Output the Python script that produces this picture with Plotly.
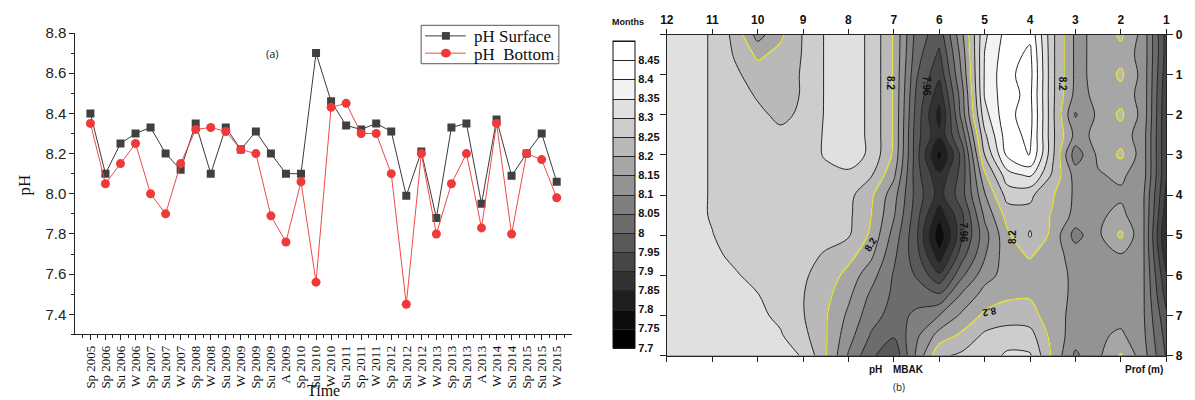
import plotly.graph_objects as go

# ---------------- data: panel (a) ----------------
time_labels = ["Sp 2005", "Sp 2006", "Su 2006", "W 2006", "Sp 2007", "Su 2007", "W 2007",
               "Sp 2008", "W 2008", "Su 2009", "W 2009", "Sp 2009", "Su 2009", "A 2009",
               "Sp 2010", "Su 2010", "W 2010", "Su 2011", "Sp 2011", "W 2011", "Sp 2012",
               "Su 2012", "W 2012", "W 2013", "Sp 2013", "Su 2013", "A 2013", "W 2014",
               "Su 2014", "Sp 2015", "Su 2015", "W 2015"]
ph_surface = [8.40, 8.10, 8.25, 8.30, 8.33, 8.20, 8.12, 8.35, 8.10, 8.33, 8.22, 8.31, 8.20, 8.10,
              8.10, 8.70, 8.46, 8.34, 8.32, 8.35, 8.31, 7.99, 8.21, 7.88, 8.33, 8.35, 7.95, 8.37,
              8.09, 8.20, 8.30, 8.06]
ph_bottom = [8.35, 8.05, 8.15, 8.25, 8.00, 7.90, 8.15, 8.32, 8.33, 8.31, 8.22, 8.20, 7.89, 7.76,
             8.06, 7.56, 8.43, 8.45, 8.30, 8.30, 8.10, 7.45, 8.20, 7.80, 8.05, 8.20, 7.83, 8.35,
             7.80, 8.20, 8.17, 7.98]
ph_ticks = [7.4, 7.6, 7.8, 8.0, 8.2, 8.4, 8.6, 8.8]
legend_names = ["pH Surface", "pH  Bottom<span style='font-size:9px'> :</span>"]

# ---------------- data: panel (b) ----------------
months = [12, 11.5, 11, 10.5, 10, 9.5, 9, 8.5, 8, 7.5, 7, 6.5, 6, 5.5, 5, 4.5, 4, 3.5, 3, 2.5, 2, 1.5, 1]
depths = [0, 0.5, 1, 1.5, 2, 2.5, 3, 3.5, 4, 4.5, 5, 5.5, 6, 6.5, 7, 7.5, 8]
# pH, one list per month column (top -> bottom, depth 0..8 m)
ph_by_month = [
    [8.32, 8.32, 8.32, 8.32, 8.32, 8.32, 8.32, 8.32, 8.32, 8.32, 8.32, 8.32, 8.32, 8.32, 8.32, 8.32, 8.32],
    [8.32, 8.32, 8.32, 8.32, 8.32, 8.32, 8.32, 8.32, 8.32, 8.32, 8.32, 8.32, 8.32, 8.32, 8.32, 8.32, 8.32],
    [8.295, 8.295, 8.295, 8.295, 8.295, 8.295, 8.295, 8.295, 8.295, 8.295, 8.302, 8.31, 8.315, 8.315, 8.315, 8.315, 8.315],
    [8.235, 8.245, 8.26, 8.27, 8.275, 8.275, 8.275, 8.275, 8.275, 8.275, 8.275, 8.29, 8.305, 8.315, 8.315, 8.315, 8.315],
    [8.13, 8.19, 8.225, 8.245, 8.26, 8.275, 8.275, 8.275, 8.275, 8.275, 8.275, 8.275, 8.285, 8.302, 8.31, 8.315, 8.315],
    [8.19, 8.215, 8.235, 8.235, 8.24, 8.26, 8.275, 8.275, 8.275, 8.275, 8.275, 8.275, 8.275, 8.28, 8.29, 8.305, 8.31],
    [8.253, 8.253, 8.253, 8.253, 8.258, 8.275, 8.275, 8.275, 8.275, 8.275, 8.27, 8.265, 8.255, 8.252, 8.253, 8.265, 8.298],
    [8.305, 8.305, 8.305, 8.305, 8.305, 8.305, 8.305, 8.285, 8.27, 8.27, 8.265, 8.245, 8.235, 8.215, 8.205, 8.205, 8.205],
    [8.325, 8.325, 8.325, 8.325, 8.325, 8.325, 8.325, 8.29, 8.265, 8.26, 8.255, 8.22, 8.18, 8.16, 8.14, 8.12, 8.095],
    [8.29, 8.29, 8.29, 8.29, 8.29, 8.29, 8.29, 8.255, 8.21, 8.201, 8.19, 8.16, 8.12, 8.09, 8.07, 8.045, 8.01],
    [8.195, 8.195, 8.195, 8.195, 8.195, 8.195, 8.19, 8.16, 8.12, 8.105, 8.08, 8.06, 8.045, 8.04, 8.03, 8.005, 7.96],
    [8.03, 8.02, 8.005, 7.99, 7.98, 7.97, 7.97, 7.97, 7.98, 7.97, 7.96, 7.97, 7.995, 8.03, 8.06, 8.09, 8.11],
    [7.97, 7.94, 7.91, 7.87, 7.83, 7.86, 7.78, 7.86, 7.88, 7.82, 7.76, 7.82, 7.91, 8.01, 8.1, 8.17, 8.24],
    [8.14, 8.12, 8.105, 8.08, 8.07, 8.02, 7.97, 7.97, 7.98, 7.94, 7.94, 7.98, 8.04, 8.11, 8.16, 8.21, 8.26],
    [8.34, 8.352, 8.355, 8.355, 8.33, 8.29, 8.25, 8.19, 8.145, 8.11, 8.08, 8.095, 8.13, 8.17, 8.21, 8.26, 8.27],
    [8.42, 8.43, 8.44, 8.435, 8.44, 8.43, 8.41, 8.33, 8.27, 8.22, 8.19, 8.18, 8.17, 8.19, 8.23, 8.27, 8.31],
    [8.44, 8.46, 8.468, 8.462, 8.468, 8.462, 8.455, 8.36, 8.26, 8.235, 8.255, 8.205, 8.18, 8.195, 8.22, 8.27, 8.305],
    [8.26, 8.26, 8.26, 8.26, 8.26, 8.26, 8.26, 8.24, 8.205, 8.195, 8.185, 8.17, 8.17, 8.17, 8.17, 8.18, 8.19],
    [8.14, 8.14, 8.14, 8.135, 8.095, 8.135, 8.07, 8.13, 8.14, 8.135, 8.08, 8.13, 8.14, 8.14, 8.135, 8.125, 8.09],
    [8.16, 8.16, 8.16, 8.16, 8.16, 8.16, 8.16, 8.145, 8.13, 8.14, 8.14, 8.13, 8.12, 8.12, 8.12, 8.14, 8.14],
    [8.21, 8.18, 8.21, 8.18, 8.21, 8.18, 8.21, 8.16, 8.14, 8.165, 8.21, 8.145, 8.13, 8.12, 8.13, 8.16, 8.205],
    [8.13, 8.13, 8.13, 8.13, 8.13, 8.12, 8.12, 8.12, 8.105, 8.105, 8.105, 8.105, 8.105, 8.105, 8.105, 8.11, 8.12],
    [7.93, 7.93, 7.92, 7.91, 7.905, 7.905, 7.905, 7.905, 7.89, 7.87, 7.845, 7.87, 7.905, 7.93, 7.96, 7.98, 7.995],
]
month_ticks = [12, 11, 10, 9, 8, 7, 6, 5, 4, 3, 2, 1]
depth_ticks = [0, 1, 2, 3, 4, 5, 6, 7, 8]
cbar_ticks = [7.7, 7.75, 7.8, 7.85, 7.9, 7.95, 8.0, 8.05, 8.1, 8.15, 8.2, 8.25, 8.3, 8.35, 8.4, 8.45]
cbar_text = ["7.7", "7.75", "7.8", "7.85", "7.9", "7.95", "8", "8.05", "8.1", "8.15",
             "8.2", "8.25", "8.3", "8.35", "8.4", "8.45"]

# depth rows x month columns
ph_grid = [list(row) for row in zip(*ph_by_month)]

W, H = 1195, 400
def px(x):
    return x / W
def py(y):
    return 1 - y / H

SERIF = "Liberation Serif"
SANS = "Liberation Sans"
idx = list(range(len(time_labels)))
SURF_LINE, SURF_MARK = "#3a3a3a", "#404040"
BOT_LINE, BOT_MARK = "#f04848", "#f03a3a"

fig = go.Figure()

fig.add_trace(go.Scatter(
    x=idx, y=ph_surface, mode="lines+markers", name=legend_names[0],
    line=dict(color=SURF_LINE, width=1),
    marker=dict(symbol="square", size=8, color=SURF_MARK),
    xaxis="x", yaxis="y", showlegend=False))
fig.add_trace(go.Scatter(
    x=idx, y=ph_bottom, mode="lines+markers", name=legend_names[1],
    line=dict(color=BOT_LINE, width=1),
    marker=dict(symbol="circle", size=9, color=BOT_MARK),
    xaxis="x", yaxis="y", showlegend=False))

gray_scale = [[0, "rgb(0,0,0)"], [1 / 17, "rgb(0,0,0)"], [16 / 17, "rgb(255,255,255)"], [1, "rgb(255,255,255)"]]

fig.add_trace(go.Contour(
    x=months, y=depths, z=ph_grid, xaxis="x2", yaxis="y2",
    autocontour=False,
    contours=dict(start=7.7, end=8.5, size=0.05, coloring="fill", showlines=True),
    colorscale=gray_scale, zmin=7.7, zmax=8.5,
    line=dict(color="#262626", width=1, smoothing=1.0),
    showscale=True,
    colorbar=dict(x=px(611.7), xanchor="left", y=py(193), yanchor="middle",
                  len=320 / H, lenmode="fraction", thickness=21.6, thicknessmode="pixels",
                  xpad=0, ypad=0, outlinecolor="#111", outlinewidth=1,
                  tickmode="array", tickvals=cbar_ticks, ticktext=cbar_text, ticks="",
                  tickfont=dict(family=SANS, size=11, color="#111", weight="bold")),
    hoverinfo="skip", showlegend=False))

fig.add_trace(go.Contour(
    x=months, y=depths, z=ph_grid, xaxis="x2", yaxis="y2",
    autocontour=False,
    contours=dict(start=8.2, end=8.2, size=0.05, coloring="none", showlines=True),
    line=dict(color="#e2e24a", width=1.6, smoothing=1.0),
    showscale=False, hoverinfo="skip", showlegend=False))

axis_line = dict(showline=True, linecolor="#222", linewidth=1, showgrid=False, zeroline=False)

fig.update_layout(
    width=W, height=H, margin=dict(l=0, r=0, t=0, b=0),
    paper_bgcolor="white", plot_bgcolor="white", showlegend=False,
    xaxis=dict(domain=[px(69), px(570)], range=[-1, 32], anchor="y",
               tickmode="array", tickvals=idx, ticktext=time_labels, tickangle=-90,
               ticks="outside", ticklen=5, tickcolor="#222",
               minor=dict(tickvals=[i + 0.5 for i in range(-1, 32)], ticks="outside", ticklen=3, tickcolor="#222"),
               tickfont=dict(family=SERIF, size=13, color="#111"), **axis_line),
    yaxis=dict(domain=[py(339), py(25)], range=[7.3, 8.8], anchor="x",
               tickmode="array", tickvals=ph_ticks, tickformat=".1f",
               ticks="outside", ticklen=5, tickcolor="#222",
               minor=dict(tickvals=[7.3, 7.5, 7.7, 7.9, 8.1, 8.3, 8.5, 8.7], ticks="outside", ticklen=3, tickcolor="#222"),
               tickfont=dict(family=SANS, size=15, color="#222"), **axis_line),
    xaxis2=dict(domain=[px(666), px(1170)], range=[12, 1], anchor="y2", side="top",
                tickmode="array", tickvals=month_ticks, mirror="allticks",
                ticks="outside", ticklen=5, tickcolor="#222",
                tickfont=dict(family=SANS, size=12, color="#111", weight="bold"), **axis_line),
    yaxis2=dict(domain=[py(361), py(26.7)], range=[8, 0], anchor="x2", side="right",
                tickmode="array", tickvals=depth_ticks, mirror="allticks",
                ticks="outside", ticklen=6, tickcolor="#222",
                tickfont=dict(family=SANS, size=12, color="#111", weight="bold"), **axis_line),
)

# legend drawn by hand (box, line samples, marker samples, labels)
shapes = [
    dict(type="rect", x0=px(418), x1=px(557), y0=py(17), y1=py(57), line=dict(color="#555", width=1),
         fillcolor="white", layer="above"),
    dict(type="line", x0=px(422), x1=px(463), y0=py(28), y1=py(28), line=dict(color=SURF_LINE, width=1)),
    dict(type="rect", x0=px(439), x1=px(447), y0=py(24), y1=py(32), line=dict(width=0), fillcolor=SURF_MARK),
    dict(type="line", x0=px(422), x1=px(463), y0=py(46), y1=py(46), line=dict(color=BOT_LINE, width=1)),
    dict(type="circle", x0=px(438), x1=px(448), y0=py(41.5), y1=py(50.5), line=dict(width=0), fillcolor=BOT_MARK),
]
for s in shapes:
    s.update(xref="paper", yref="paper")

annotations = [
    dict(text=legend_names[0], x=px(469), y=py(29), xanchor="left", font=dict(family=SERIF, size=17, color="#111")),
    dict(text=legend_names[1], x=px(469), y=py(47), xanchor="left", font=dict(family=SERIF, size=17, color="#111")),
    dict(text="(a)", x=px(268), y=py(46), font=dict(family="Open Sans", size=11, color="#222")),
    dict(text="Time", x=px(319), y=py(397), font=dict(family=SERIF, size=16, color="#111")),
    dict(text="pH", x=px(18), y=py(183), textangle=-90, font=dict(family=SERIF, size=17, color="#111")),
    dict(text="Months", x=px(627), y=py(14), font=dict(family=SANS, size=9, color="#111", weight="bold")),
    dict(text="pH", x=px(877), y=py(375), font=dict(family=SANS, size=10, color="#111", weight="bold")),
    dict(text="MBAK", x=px(910), y=py(375), font=dict(family=SANS, size=10, color="#111", weight="bold")),
    dict(text="Prof (m)", x=px(1148), y=py(375), font=dict(family=SANS, size=10, color="#111", weight="bold")),
    dict(text="(b)", x=px(900), y=py(394), font=dict(family="Open Sans", size=10, color="#222")),
]
for a in annotations:
    a.setdefault("xanchor", "center")
    a.setdefault("yanchor", "middle")
    a.update(xref="paper", yref="paper", showarrow=False)

contour_labels = [
    ("8.2", 7.09, 1.2, 90), ("7.96", 6.28, 1.27, 90), ("8.2", 3.29, 1.23, 90),
    ("8.2", 7.52, 5.22, -60), ("8.2", 4.4, 5.05, -90), ("7.96", 5.47, 4.94, 90),
    ("8.2", 4.9, 6.92, 170),
]
for t, mx, dy, ang in contour_labels:
    annotations.append(dict(text=t, x=mx, y=dy, xref="x2", yref="y2", showarrow=False, textangle=ang,
                            xanchor="center", yanchor="middle",
                            font=dict(family=SANS, size=10, color="#111", weight="bold")))

fig.update_layout(annotations=annotations, shapes=shapes)
fig.write_html("out.html")
